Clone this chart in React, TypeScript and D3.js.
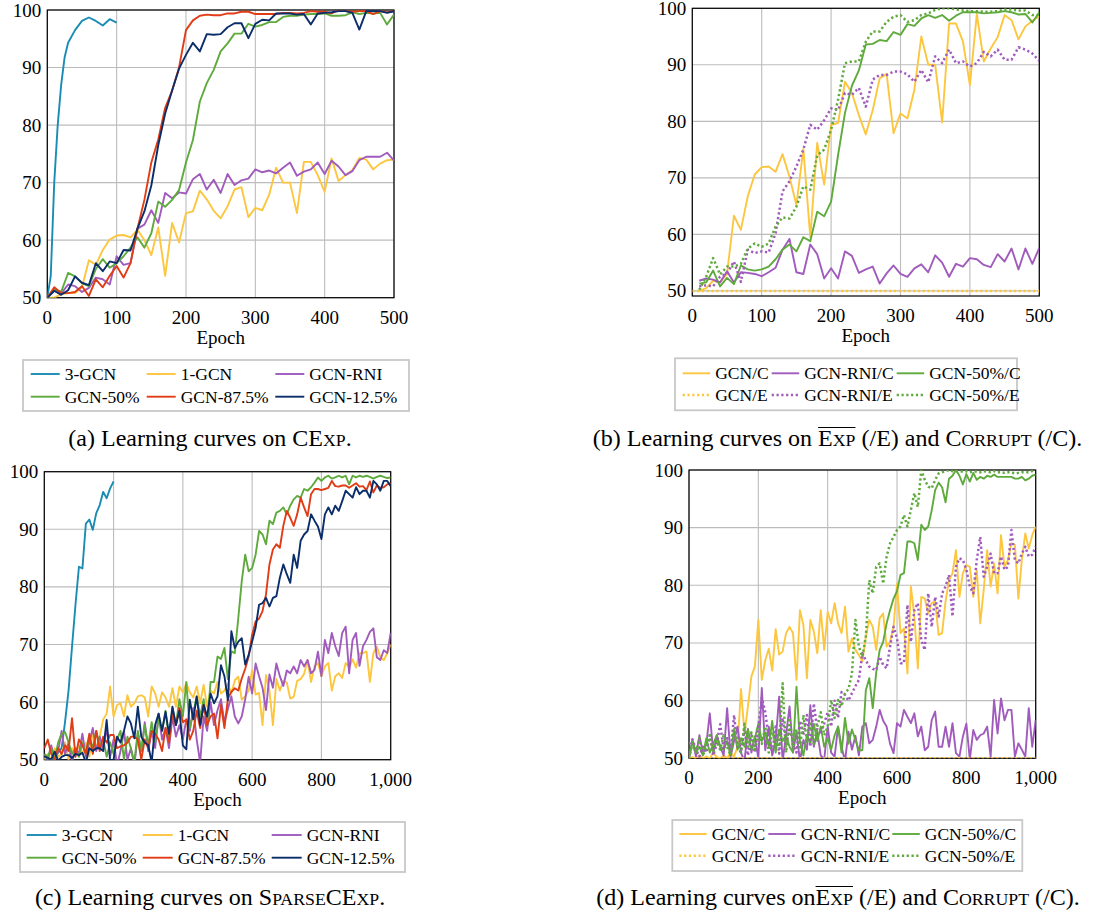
import React from "react";
import * as d3 from "d3";

// ---------------- colours ----------------
const COL_3GCN = "#1a8cb4";
const COL_1GCN = "#fdc63f";
const COL_RNI = "#a05bbd";
const COL_50 = "#5faa3c";
const COL_875 = "#e03c16";
const COL_125 = "#0b2d6a";

// ---------------- shared ticks ----------------
const Y_TICKS = [50, 60, 70, 80, 90, 100];
const X_TICKS_500 = [0, 100, 200, 300, 400, 500];
const X_TICKS_1000 = [0, 200, 400, 600, 800, 1000];

// ---------------- panel (a): CExp ----------------
const EPOCHS_A = d3.range(0, 501, 10);
const A_3GCN_X = [0, 5, 10, 15, 20, 25, 30, 40, 50, 60, 70, 80, 90, 100];
const A_3GCN = [50, 53.8, 70, 80, 87, 91.8, 94.3, 96.5, 98.1, 98.7, 98.1, 97.3, 98.4, 97.8];
const A_1GCN = [
  50, 50, 50.6, 50.8, 50.8, 51.8, 56.5, 55.7, 58.3, 60.1,
  60.8, 60.9, 60.5, 61.8, 60, 57.4, 62.2, 53.8, 63, 59.6,
  64.7, 65, 68.6, 67.1, 65.1, 63.8, 65.9, 68.8, 69.2, 64,
  65.6, 65.2, 67.9, 72.6, 70, 70, 64.7, 73.6, 73.6, 71.3,
  68.4, 74.2, 70.3, 71.3, 72.2, 74.3, 74, 72.3, 73.3, 73.9,
  74,
];
const A_RNI = [
  50, 51.2, 50.7, 52.3, 52, 51, 51.7, 53.5, 53.2, 52.3,
  57.2, 55.7, 56, 62, 62.7, 65.2, 63, 68.2, 67.3, 68.3,
  68.1, 70.6, 71.5, 68.8, 70.5, 68.2, 71.5, 69.6, 70.4, 70.7,
  72.3, 71.8, 72.1, 71.6, 72.6, 73.5, 71.2, 71.9, 72.3, 73.5,
  71.5, 73.8, 72.8, 71.3, 72, 73.9, 74.5, 74.5, 74.5, 75.2,
  73.8,
];
const A_50 = [
  50, 51.5, 51, 54.3, 53.7, 52.5, 52, 55, 56.7, 55.2,
  56, 57.2, 58.7, 60.5, 58.7, 61.2, 66.7, 65.8, 67, 68.7,
  73.5, 77.4, 84.1, 87.3, 89.6, 92.8, 94.2, 95.9, 95.9, 97.6,
  97.1, 97.4, 97.9, 97.9, 98.8, 99, 99, 99.2, 99.3, 99.3,
  99.4, 99, 99, 99.1, 99.6, 99.3, 99.5, 99.4, 99.5, 97.5,
  99.2,
];
const A_875 = [
  50, 51.8, 50.8, 50.8, 51, 52, 50.3, 53.2, 51.8, 53.8,
  55.5, 53.5, 56, 62, 67, 73.5, 77.5, 83, 86, 90,
  96.5, 98.2, 99, 99.2, 99.1, 99.1, 99.4, 99.4, 99.7, 99.7,
  99.3, 99.3, 99.3, 99.3, 99.5, 99.5, 99.4, 99.5, 99.8, 99.7,
  99.7, 99.4, 100, 99.8, 99.7, 99.8, 99.8, 99.3, 99.8, 99.6,
  99.8,
];
const A_125 = [
  50, 51.2, 50.5, 51.3, 53.7, 52.6, 52.2, 56, 54.6, 56.3,
  56, 58.3, 58.2, 62, 65, 69.5, 76.5, 82, 86, 89.8,
  92.2, 94.3, 92.8, 95.8, 95.7, 95.8, 97, 97.7, 97.7, 95.1,
  97.6, 98.3, 98.2, 99.4, 99.4, 99.4, 99.2, 99.3, 97.5, 99.4,
  99.5, 99.6, 99.8, 99.8, 99.5, 96.6, 99.8, 99.8, 99.8, 99.5,
  99.8,
];

// ---------------- panel (b): Exp (/E) and Corrupt (/C) ----------------
const EPOCHS_B = d3.range(10, 501, 10);
const B_GCN_C = [
  50, 50.5, 51.8, 51.5, 53, 63.3, 60.8, 66.8, 70.6, 71.9,
  72, 71.1, 74.2, 70.2, 65.2, 75.1, 59.5, 76.2, 68.8, 79.4,
  79.7, 87, 85, 81.1, 77.7, 82, 87.6, 88.4, 77.9, 81.4,
  80.5, 85.6, 95, 90, 90, 79.8, 97.3, 97.3, 94.1, 86.4,
  99, 90.6, 92.9, 94.9, 98.8, 97.9, 94.5, 96.8, 97.8, 98.6,
];
const B_RNI_C = [
  51.8, 52.2, 52, 51.5, 53.5, 51.5, 53.3, 53.2, 53, 52.6,
  53.3, 54.1, 57.3, 59.2, 53.3, 53, 58.2, 56.5, 52.2, 54,
  52.2, 57, 56.2, 53.2, 53.8, 54.3, 51.3, 53.1, 54.5, 53,
  52.5, 54, 54.7, 53.3, 56.3, 55, 52.5, 54.8, 54.3, 55.8,
  55.6, 54.6, 54.2, 56.5, 55.2, 57.5, 53.8, 57.5, 54.8, 57.6,
];
const B_50_C = [
  51.3, 51.5, 53.6, 50.8, 52.3, 51.2, 54.5, 53.8, 53.6, 53.8,
  54.3, 55.6, 57.3, 58.2, 57, 59.5, 58.8, 64, 63.2, 65.8,
  74, 81.5, 86.3, 89, 93.6, 93.7, 94.4, 94.2, 95.8, 95.3,
  97.2, 96.9, 98.2, 98.8, 98.3, 98.8, 97.8, 98.7, 99.3, 99.3,
  99.3, 99.1, 99.2, 99.3, 99.5, 99.3, 98.9, 99, 97.5, 99.3,
];
const B_GCN_E_X = [0, 500];
const B_GCN_E = [50, 50];
const B_RNI_E = [
  50.8, 51, 50.8, 52.5, 53.1, 55.2, 51.6, 57.3, 56.7, 57,
  56.8, 60.2, 67.6, 69.4, 72, 75, 79.4, 78.5, 80.2, 82.3,
  82, 85, 84.7, 85.9, 82.6, 87.4, 88.2, 88.2, 88.8, 88.8,
  88.3, 87, 89.1, 86.9, 91.5, 90.3, 92.7, 90.3, 90.6, 89.7,
  90.3, 92.3, 91.5, 92.7, 90.9, 90.9, 93.1, 92.7, 92, 90.7,
];
const B_50_E = [
  50.2, 52.5, 55.8, 52.9, 54.3, 54.3, 54.8, 57.5, 58.4, 57.8,
  58.4, 61.4, 63, 62.8, 64.9, 68.5, 67.9, 74, 75, 78.5,
  83.8, 90.3, 90.6, 90.6, 94.1, 95.9, 95.9, 97.6, 98.5, 98.8,
  97.6, 97.9, 98.8, 99.1, 99.7, 100, 100, 99.8, 99.6, 99.5,
  99.5, 99.4, 99.4, 99.5, 99.8, 99.8, 99.6, 99.6, 98.8, 98.8,
];

// ---------------- panel (c): SparseCExp ----------------
const EPOCHS_C = d3.range(0, 1001, 10);
const C_3GCN_X = d3.range(0, 201, 10);
const C_3GCN = [
  50.3, 50, 49.8, 50.5, 51.2, 52, 56.6, 62, 69.6, 76.9,
  83.5, 83.2, 91, 91.7, 89.9, 92.8, 94.2, 96.5, 95.4, 97.1,
  98.3,
];
const C_1GCN = [
  50, 51, 50, 52, 50.5, 51, 53, 50, 52, 51,
  52.5, 51, 53, 50.5, 55, 52, 54, 57, 58, 62.7,
  57.5, 59.5, 59.8, 57.5, 61.2, 59.2, 59.8, 61, 61.2, 60.8,
  57.5, 62.7, 61.5, 59.2, 61.7, 60.8, 59.2, 62.4, 59.2, 62.7,
  61.7, 63.3, 61.7, 60.8, 62.7, 59.8, 63, 59.2, 62, 61.5,
  63.5, 61.5, 62, 63.2, 61.5, 63.8, 64.4, 60.4, 61, 62,
  65.6, 61.3, 61.6, 56, 64.7, 62, 56, 64, 62, 63.7,
  63.4, 60.6, 60.9, 63.7, 64, 64.9, 67.3, 63.5, 66.2, 66.8,
  64.5, 66.2, 66.8, 62, 64.5, 65, 64.2, 66.8, 66, 67.4,
  66, 68.5, 68.5, 68.8, 63.5, 68.5, 69.6, 67.8, 67.3, 68.5,
  70,
];
const C_RNI = [
  51, 50, 52.5, 50, 51.5, 55, 51, 53, 49.5, 52,
  51, 54.5, 50.5, 53, 55.5, 51.5, 54, 52, 55.5, 50.5,
  53.5, 49, 51.5, 55, 50, 52, 49, 54.5, 51.5, 56.5,
  51.5, 55, 52, 58, 53.5, 55.5, 52, 57.5, 54, 56,
  53.5, 57, 55, 59, 53.5, 49.5, 57.5, 55, 60, 56,
  58.6, 60.5, 56.5, 58.8, 61, 57.5, 56.3, 57.5, 60.5, 64.4,
  61.5, 66.7, 64.5, 62.5, 58.6, 64.8, 62.5, 66.7, 64.5, 62.8,
  65.5, 65, 66.2, 65, 67.3, 66.2, 67.3, 65, 65.6, 68.75,
  64.5, 70.8, 68.5, 72, 69.7, 68, 72, 73.1, 65, 70.8,
  72, 66.3, 69.7, 70.8, 72.2, 72.8, 67.8, 67.3, 69, 68.5,
  72,
];
const C_50 = [
  51, 50.5, 52, 50, 53, 54.5, 54.8, 53, 51, 52,
  50.5, 53, 51, 54, 52, 55, 52.5, 53.5, 50.5, 53,
  51, 53.5, 55, 50, 54, 52, 49.5, 55, 51.5, 56,
  52.5, 56.5, 53, 57, 55, 58.5, 53.5, 59, 56, 60.5,
  57.5, 63.5, 55.5, 58, 61, 57.5, 60.5, 56, 63.5, 63.5,
  67.9, 67.5, 69.4, 64, 68.8, 68.5, 74.6, 81, 85.6, 82.7,
  83.3, 85.6, 89.7, 89.1, 87.4, 91.5, 90.9, 92.9, 93.2, 93.8,
  92.6, 94.1, 95.2, 95.8, 95.5, 97, 96.7, 97.3, 98.1, 99,
  98.4, 99, 99.3, 98.8, 99, 99.3, 99, 99.3, 97.8, 99.3,
  99, 99.3, 99.1, 99.3, 99.1, 98.8, 99.1, 99.3, 99.1, 98.9,
  99,
];
const C_875 = [
  52, 53.5, 51, 50, 52, 51, 52.5, 51.5, 57.2, 50.5,
  53.5, 52.5, 51, 54.5, 51, 55, 51.5, 54, 53, 54.3,
  54.3, 52, 52.3, 52.5, 53, 54, 54, 53.5, 50, 53.5,
  52, 55, 54.5, 53.5, 51.5, 55.5, 53, 58, 56, 59,
  56.5, 57, 53.5, 55, 58.5, 55.5, 59.5, 56, 57.5, 58,
  53.7, 59.5, 55.5, 60.6, 61.8, 62.4, 62, 64.1, 65.8, 67.9,
  71.7, 74, 74.5, 75.8, 78.7, 83.9, 86.5, 87.4, 86.8, 90.6,
  93.2, 92, 90.6, 92.6, 95.5, 93.8, 92.3, 96.1, 97, 97,
  96.8, 97, 97.2, 98.4, 97.5, 97.4, 97.6, 97.6, 97.2, 97.6,
  98, 97.4, 97.5, 96.8, 98.3, 96.4, 97.6, 97.2, 97.3, 97.8,
  98,
];
const C_125 = [
  50.6, 50.3, 50, 51.4, 49.8, 50.5, 50.8, 50.8, 50.3, 51,
  50.8, 51.2, 49.5, 52, 51.5, 52, 52, 51.5, 56.9, 49.8,
  50, 54, 53, 55, 57.5, 56.3, 53.7, 59.2, 54, 53,
  52.5, 49.5, 56, 58, 55, 58.3, 54.5, 59.2, 56, 58.5,
  52.5, 51.8, 60.4, 57, 61, 56, 59.5, 57.5, 61.5, 59.8,
  61, 66.4, 64.5, 60.3, 72.3, 69.4, 70.5, 71.1, 66.5, 68.2,
  70.5, 72.9, 76.9, 77.2, 78.1, 76.6, 78.1, 78.4, 81.6, 83.9,
  82.2, 80.7, 85.6, 83.3, 88, 89.1, 89.7, 92.6, 91.5, 90.5,
  88.3, 92.6, 93.8, 92.6, 94.1, 93.2, 94.9, 96.7, 96.1, 95.5,
  97.3, 96.1, 96.7, 96.7, 95.5, 98.4, 97.8, 96.7, 98.4, 98.4,
  97.5,
];

// ---------------- panel (d): Exp (/E) and Corrupt (/C), long run ----------------
const EPOCHS_D = d3.range(0, 1001, 10);
const D_GCN_C = [
  50, 50.2, 50, 50.5, 50, 50.3, 50, 51, 50.2, 50,
  50.5, 50, 51, 50.3, 52, 62, 54.3, 59, 64.2, 65.9,
  74, 63.6, 67, 69, 65.2, 72.4, 68, 68.5, 71.7, 72.8,
  71.7, 63.6, 75.7, 73.1, 63.9, 74, 72, 68.2, 75.7, 68.8,
  75.4, 73.4, 76.9, 73.4, 71.7, 76.3, 68.5, 70.8, 68.8, 67.9,
  66.8, 71.1, 74, 72.8, 68.8, 74.3, 75.1, 69.4, 70.2, 72.8,
  80.3, 71.7, 72.5, 64.7, 79.8, 74.6, 65.6, 78, 77.7, 75.1,
  76.9, 77.2, 71.4, 71.7, 77.2, 80.9, 82.1, 86.1, 78, 82.1,
  83.5, 83.2, 78, 82.7, 73.4, 79.2, 86.1, 79.8, 83.8, 78.6,
  88.7, 83.2, 84.4, 87.3, 87, 77.7, 84.4, 89, 86.4, 88.7,
  90.2,
];
const D_RNI_C = [
  50, 53.2, 50.3, 54, 51, 52.5, 57.8, 50.9, 54, 52,
  50.5, 58.7, 50.3, 53, 55.5, 51, 49.5, 55.1, 51, 53.8,
  50, 62.2, 51.4, 55.5, 50.5, 53, 60.7, 49.5, 54, 59,
  51, 54.6, 49.5, 53.2, 51.5, 59.2, 52, 54.6, 50.5, 49.8,
  55.5, 51, 50.3, 55.5, 52, 49.5, 54.6, 51.5, 53.9, 50.5,
  55.5, 56.1, 52.6, 53.2, 55.5, 58.4, 56.5, 55.5, 52.5, 50.9,
  56.1, 55.5, 58.4, 57.2, 56.1, 57.8, 53.8, 55.5, 51.4, 52,
  56.6, 58.1, 52, 52, 55.5, 52, 56.1, 50.9, 50.3, 53.8,
  56, 49.8, 54.9, 53.2, 54, 54.3, 55.5, 50.3, 60.1, 54.3,
  60.4, 56.6, 58.4, 58.4, 50.3, 52.6, 51.5, 50.3, 58.7, 52,
  56.6,
];
const D_50_C = [
  50, 53, 51, 52, 50.5, 53.5, 51, 52.5, 54, 52,
  51.5, 53, 50.5, 55, 51.5, 53.5, 52, 55, 51.5, 53.5,
  56, 53, 54.5, 52, 56.5, 51, 55, 53, 54, 52,
  51, 62.4, 53, 50.5, 54, 52.5, 56, 53, 55.5, 52,
  53.5, 51.5, 54, 55.5, 51, 57, 52.5, 55, 53.2, 51.4,
  51.4, 61.8, 63.9, 58.7, 64.9, 68.8, 70.2, 73.4, 75.7, 77.7,
  79, 81.8, 82.1, 87.6, 87.6, 87.3, 84.4, 90.5, 89.6, 90.2,
  93, 96.5, 97.8, 97, 94.4, 98.5, 99, 100, 99, 97.5,
  99.3, 98, 99.5, 98.3, 98.8, 98.5, 99, 98.8, 99.2, 98.8,
  98.8, 98.8, 98.8, 98.8, 98.5, 98.5, 98.8, 98.2, 98.5, 99,
  99.2,
];
const D_GCN_E_X = [0, 1000];
const D_GCN_E = [50, 50];
const D_RNI_E = [
  52.5, 53.3, 51.5, 50.3, 52, 51, 54, 50.5, 52.5, 55.9,
  51.5, 53.5, 50.8, 57.5, 52, 51, 55, 50.5, 54, 51,
  55.5, 60.5, 58, 53.5, 51, 55.5, 50.8, 57, 52.5, 55,
  53, 51, 56.5, 54, 57.5, 52, 59.5, 55, 54.5, 56,
  58, 55.5, 60, 57, 61.5, 61, 60, 61.3, 62.5, 63.6,
  68.2, 67, 65.9, 65.5, 65.3, 67.6, 66.2, 65.6, 69.4, 72.8,
  70.8, 66.5, 66.5, 76.6, 70.2, 75.7, 76.9, 70.5, 68.8, 78.6,
  72.8, 78, 74.6, 78.6, 79.8, 81.8, 74.6, 83.2, 84.7, 84.4,
  82.7, 79.8, 78.6, 84.4, 88.4, 81.5, 83.2, 85.5, 82.1, 82.1,
  85, 82.7, 83.2, 89.6, 84.4, 83.8, 85.5, 86.7, 85, 85.3,
  86.7,
];
const D_50_E = [
  50, 52.5, 51, 53.5, 50.5, 52, 54, 51, 53, 51.5,
  54, 52, 50.5, 55, 52.5, 51, 56, 52, 54.5, 51.5,
  54, 52.5, 55.5, 51, 54.5, 53, 52, 63, 51, 57,
  52, 55, 51.5, 57.5, 53, 56, 52.5, 55.5, 58, 54,
  55.5, 60.1, 57, 60.1, 59, 61.3, 62, 64.7, 74, 69.4,
  67.6, 71.1, 80.9, 78.6, 83.2, 83.8, 80.3, 85, 87.3, 88.4,
  89.6, 90.2, 92.2, 90.2, 93.1, 96, 93.6, 100, 98.3, 97.1,
  96.8, 98.3, 99.4, 99.6, 99.8, 100, 99.8, 99.8, 99.8, 99.7,
  99.8, 99.6, 99.8, 99.7, 99.6, 99.8, 99.7, 99.6, 99.8, 99.6,
  99.6, 99.5, 99.6, 99.6, 99.4, 99.5, 99.6, 99.6, 99.6, 99.8,
  100,
];

// ---------------- legend labels ----------------
const LEGEND_CE = ["3-GCN", "1-GCN", "GCN-RNI", "GCN-50%", "GCN-87.5%", "GCN-12.5%"];
const LEGEND_EXP = ["GCN/C", "GCN-RNI/C", "GCN-50%/C", "GCN/E", "GCN-RNI/E", "GCN-50%/E"];

interface Series {
  label: string;
  color: string;
  dotted?: boolean;
  x: number[];
  y: number[];
}

const SERIF = "Liberation Serif, Times New Roman, serif";
const TICK_FONT = 19;
const DOT_DASH = "2.2 2.6";

function seriesCE(xs: number[], x3: number[], v3: number[], v1: number[], vr: number[], v50: number[], v875: number[], v125: number[]): Series[] {
  return [
    { label: LEGEND_CE[0], color: COL_3GCN, x: x3, y: v3 },
    { label: LEGEND_CE[1], color: COL_1GCN, x: xs, y: v1 },
    { label: LEGEND_CE[2], color: COL_RNI, x: xs, y: vr },
    { label: LEGEND_CE[3], color: COL_50, x: xs, y: v50 },
    { label: LEGEND_CE[4], color: COL_875, x: xs, y: v875 },
    { label: LEGEND_CE[5], color: COL_125, x: xs, y: v125 },
  ];
}

function seriesEXP(xs: number[], c1: number[], c2: number[], c3: number[], ex: number[], e1: number[], e2: number[], e3: number[]): Series[] {
  return [
    { label: LEGEND_EXP[0], color: COL_1GCN, x: xs, y: c1 },
    { label: LEGEND_EXP[1], color: COL_RNI, x: xs, y: c2 },
    { label: LEGEND_EXP[2], color: COL_50, x: xs, y: c3 },
    { label: LEGEND_EXP[3], color: COL_1GCN, dotted: true, x: ex, y: e1 },
    { label: LEGEND_EXP[4], color: COL_RNI, dotted: true, x: xs, y: e2 },
    { label: LEGEND_EXP[5], color: COL_50, dotted: true, x: xs, y: e3 },
  ];
}

const SERIES_A = seriesCE(EPOCHS_A, A_3GCN_X, A_3GCN, A_1GCN, A_RNI, A_50, A_875, A_125);
const SERIES_C = seriesCE(EPOCHS_C, C_3GCN_X, C_3GCN, C_1GCN, C_RNI, C_50, C_875, C_125);
const SERIES_B = seriesEXP(EPOCHS_B, B_GCN_C, B_RNI_C, B_50_C, B_GCN_E_X, B_GCN_E, B_RNI_E, B_50_E);
const SERIES_D = seriesEXP(EPOCHS_D, D_GCN_C, D_RNI_C, D_50_C, D_GCN_E_X, D_GCN_E, D_RNI_E, D_50_E);

interface PanelProps {
  id: string;
  left: number;
  right: number;
  top: number;
  bottom: number;
  xMax: number;
  yMin: number;
  xTicks: number[];
  series: Series[];
}

function Panel({ id, left, right, top, bottom, xMax, yMin, xTicks, series }: PanelProps) {
  const x = d3.scaleLinear().domain([0, xMax]).range([left, right]);
  const y = d3.scaleLinear().domain([yMin, 100]).range([bottom, top]);
  const line = d3
    .line<[number, number]>()
    .x((d) => x(d[0]))
    .y((d) => y(d[1]));
  const fmt = d3.format(",");
  const grid = "#bcbcbc";
  return (
    <g>
      <defs>
        <clipPath id={`clip-${id}`}>
          <rect x={left} y={top} width={right - left} height={bottom - top} />
        </clipPath>
      </defs>
      {xTicks.map((t) => (
        <line key={`gx${t}`} x1={x(t)} x2={x(t)} y1={top} y2={bottom} stroke={grid} strokeWidth={1.1} />
      ))}
      {Y_TICKS.map((t) => (
        <line key={`gy${t}`} x1={left} x2={right} y1={y(t)} y2={y(t)} stroke={grid} strokeWidth={1.1} />
      ))}
      <rect x={left} y={top} width={right - left} height={bottom - top} fill="none" stroke="#000" strokeWidth={1.2} />
      <g clipPath={`url(#clip-${id})`}>
        {series.map((s, i) => {
          const pts: [number, number][] = s.y
            .map((v, k) => [s.x[k], v] as [number, number])
            .filter((p) => p[0] !== undefined);
          return (
            <path
              key={i}
              d={line(pts) || ""}
              fill="none"
              stroke={s.color}
              strokeWidth={s.dotted ? 2.5 : 1.9}
              strokeDasharray={s.dotted ? DOT_DASH : undefined}
              strokeLinejoin="round"
            />
          );
        })}
      </g>
      {Y_TICKS.map((t) => (
        <text key={`ty${t}`} x={left - 6} y={y(t) + 6.5} textAnchor="end" fontSize={TICK_FONT} fontFamily={SERIF}>
          {t}
        </text>
      ))}
      {xTicks.map((t) => (
        <text key={`tx${t}`} x={x(t)} y={bottom + 26} textAnchor="middle" fontSize={TICK_FONT} fontFamily={SERIF}>
          {fmt(t)}
        </text>
      ))}
      <text x={(left + right) / 2} y={bottom + 46} textAnchor="middle" fontSize={TICK_FONT} fontFamily={SERIF}>
        Epoch
      </text>
    </g>
  );
}

interface LegendProps {
  box: [number, number, number, number];
  rows: number[];
  cols: number[];
  lineLen: number;
  series: Series[];
}

function Legend({ box, rows, cols, lineLen, series }: LegendProps) {
  return (
    <g>
      <rect x={box[0]} y={box[1]} width={box[2]} height={box[3]} fill="#fff" stroke="#c8c8c8" strokeWidth={1.8} />
      {series.map((s, i) => {
        const cx = cols[i % 3];
        const cy = rows[Math.floor(i / 3)];
        return (
          <g key={i}>
            <line
              x1={cx}
              x2={cx + lineLen}
              y1={cy}
              y2={cy}
              stroke={s.color}
              strokeWidth={s.dotted ? 2.5 : 1.9}
              strokeDasharray={s.dotted ? DOT_DASH : undefined}
            />
            <text x={cx + lineLen + 5} y={cy + 6} fontSize={17.5} fontFamily={SERIF}>
              {s.label}
            </text>
          </g>
        );
      })}
    </g>
  );
}

const SC = "0.74em";
const CAP_FONT = 24;

// caption with an overlined "EXP": the bar is placed by measuring the glyphs
function ExpCaption({ x, y, lead }: { x: number; y: number; lead: string }) {
  const ref = React.useRef<SVGTextElement>(null);
  const [bar, setBar] = React.useState<[number, number] | null>(null);
  React.useLayoutEffect(() => {
    const t = ref.current;
    if (!t) return;
    try {
      const i = lead.length;
      const a = t.getStartPositionOfChar(i);
      const b = t.getEndPositionOfChar(i + 2);
      setBar([a.x, b.x]);
    } catch (e) {
      setBar(null);
    }
  }, [lead]);
  return (
    <g>
      <text ref={ref} x={x} y={y}>
        {lead}
        {"E"}
        <tspan fontSize={SC}>XP</tspan>
        {" (/E) and C"}
        <tspan fontSize={SC}>ORRUPT</tspan>
        {" (/C)."}
      </text>
      {bar && <line x1={bar[0]} x2={bar[1]} y1={y - 18.5} y2={y - 18.5} stroke="#000" strokeWidth={1.1} />}
    </g>
  );
}

export default function App() {
  return (
    <svg
      width={1114}
      height={916}
      viewBox="0 0 1114 916"
      style={{ position: "absolute", left: 0, top: 0, background: "#fff" }}
    >
      <rect x={0} y={0} width={1114} height={916} fill="#fff" />
      <Panel id="a" left={47.3} right={394} top={10} bottom={297.7} xMax={500} yMin={50} xTicks={X_TICKS_500} series={SERIES_A} />
      <Panel id="b" left={692.3} right={1039.3} top={8.3} bottom={296} xMax={500} yMin={49.1} xTicks={X_TICKS_500} series={SERIES_B} />
      <Panel id="c" left={44.3} right={390.7} top={471.7} bottom={759.7} xMax={1000} yMin={50} xTicks={X_TICKS_1000} series={SERIES_C} />
      <Panel id="d" left={689} right={1035.7} top={470} bottom={758.3} xMax={1000} yMin={50} xTicks={X_TICKS_1000} series={SERIES_D} />

      <Legend box={[23, 360, 386, 51]} rows={[374, 396.7]} cols={[30.7, 146.7, 275.3]} lineLen={29} series={SERIES_A} />
      <Legend box={[675, 358.3, 342, 52]} rows={[373.3, 395]} cols={[682.7, 771.7, 896.7]} lineLen={27.5} series={SERIES_B} />
      <Legend box={[20, 822, 385, 50]} rows={[835, 857.7]} cols={[26.7, 142.7, 271.7]} lineLen={30} series={SERIES_C} />
      <Legend box={[672.3, 820, 350, 51]} rows={[834, 855.7]} cols={[679.3, 768.3, 892.3]} lineLen={27.5} series={SERIES_D} />

      <g fontFamily={SERIF} fontSize={CAP_FONT} textAnchor="middle">
        <text x={210} y={446}>
          {"(a) Learning curves on CE"}
          <tspan fontSize={SC}>XP</tspan>
          {"."}
        </text>
        <ExpCaption x={837.5} y={446} lead="(b) Learning curves on " />
        <text x={210} y={905}>
          {"(c) Learning curves on S"}
          <tspan fontSize={SC}>PARSE</tspan>
          {"CE"}
          <tspan fontSize={SC}>XP</tspan>
          {"."}
        </text>
        <ExpCaption x={838} y={905} lead="(d) Learning curves on" />
      </g>
    </svg>
  );
}
